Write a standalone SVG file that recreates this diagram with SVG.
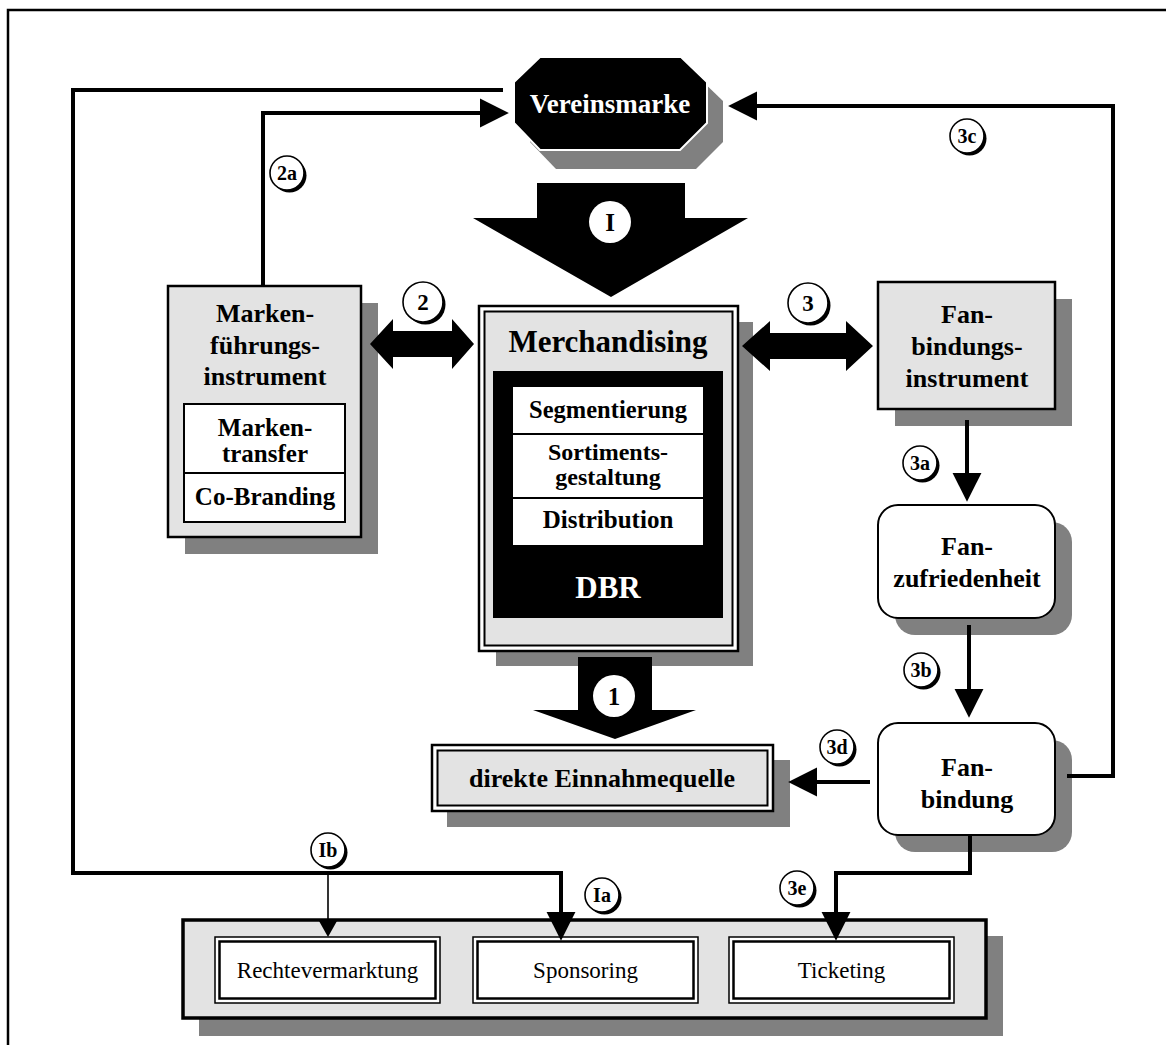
<svg xmlns="http://www.w3.org/2000/svg" width="1166" height="1045" viewBox="0 0 1166 1045">
  <defs>
    <style>
      .b { font-family: "Liberation Serif", "Times New Roman", serif; font-weight: bold; text-anchor: middle; fill: #000; }
      .r { font-family: "Liberation Serif", "Times New Roman", serif; font-weight: normal; text-anchor: middle; fill: #000; }
      .w { fill: #fff; }
      .shadow { fill: #808080; }
      .box { fill: #e3e3e3; stroke: #000; stroke-width: 2.5; }
      .plain { fill: #fff; stroke: #000; stroke-width: 2; }
      .wire { fill: none; stroke: #000; stroke-width: 4; }
      .thin { fill: none; stroke: #000; stroke-width: 1.6; }
      .lbl-sh { fill: #000; }
      .lbl { fill: #fff; stroke: #000; stroke-width: 1.6; }
    </style>
    <marker id="ah" markerUnits="userSpaceOnUse" markerWidth="30" markerHeight="30" refX="0" refY="0" viewBox="0 -13 26 26" orient="auto">
      <path d="M0,-12.5 L25,0 L0,12.5 z" fill="#000"/>
    </marker>
    <marker id="ahs" markerUnits="userSpaceOnUse" markerWidth="20" markerHeight="20" refX="0" refY="0" viewBox="0 -10 17 20" orient="auto">
      <path d="M0,-9 L16,0 L0,9 z" fill="#000"/>
    </marker>
  </defs>

  <!-- page frame -->
  <rect x="8" y="10" width="1200" height="1100" fill="#fff" stroke="#000" stroke-width="2.5"/>

  <!-- Vereinsmarke -->
  <g id="vereinsmarke">
    <polygon class="shadow" points="556,76 697,76 723,101 723,142 696,169 556,169 530,142 530,101"/>
    <polygon points="540,57 681,57 707,82 707,123 680,150 540,150 514,123 514,82" fill="#000" stroke="#fff" stroke-width="2"/>
    <text class="b w" x="610" y="113" font-size="27">Vereinsmarke</text>
  </g>

  <!-- Pfeil I -->
  <g id="pfeil-I">
    <polygon points="537,183 685,183 685,218 748,218 611,297 473,218 537,218" fill="#000"/>
    <circle cx="610" cy="222" r="21" fill="#fff"/>
    <text class="b" x="610" y="231" font-size="25">I</text>
  </g>

  <!-- Markenführungsinstrument -->
  <g id="markenfuehrung">
    <rect class="shadow" x="185" y="303" width="193" height="251"/>
    <rect class="box" x="168" y="286" width="193" height="251"/>
    <text class="b" x="265" y="322" font-size="26">Marken-</text>
    <text class="b" x="265" y="354" font-size="26">führungs-</text>
    <text class="b" x="265" y="385" font-size="26">instrument</text>
    <rect class="plain" x="184" y="404" width="161" height="118"/>
    <line x1="184" y1="473" x2="345" y2="473" stroke="#000" stroke-width="2"/>
    <text class="b" x="265" y="436" font-size="25">Marken-</text>
    <text class="b" x="265" y="462" font-size="25">transfer</text>
    <text class="b" x="265" y="505" font-size="25">Co-Branding</text>
  </g>

  <!-- Merchandising -->
  <g id="merchandising">
    <rect class="shadow" x="496" y="322" width="257" height="344"/>
    <rect x="479" y="306" width="259" height="345" fill="#fff" stroke="#000" stroke-width="2.5"/>
    <rect x="484.5" y="311.5" width="248" height="334" fill="#e3e3e3" stroke="#000" stroke-width="2"/>
    <text class="b" x="608" y="352" font-size="31">Merchandising</text>
    <rect x="493" y="371" width="230" height="247" fill="#000"/>
    <rect x="513" y="387" width="190" height="158" fill="#fff"/>
    <line x1="513" y1="434" x2="703" y2="434" stroke="#000" stroke-width="2"/>
    <line x1="513" y1="498" x2="703" y2="498" stroke="#000" stroke-width="2"/>
    <text class="b" x="608" y="418" font-size="24.5">Segmentierung</text>
    <text class="b" x="608" y="460" font-size="24">Sortiments-</text>
    <text class="b" x="608" y="485" font-size="24">gestaltung</text>
    <text class="b" x="608" y="528" font-size="25">Distribution</text>
    <text class="b w" x="608" y="598" font-size="31">DBR</text>
  </g>

  <!-- Fanbindungsinstrument -->
  <g id="fanbindungsinstrument">
    <rect class="shadow" x="895" y="299" width="177" height="127"/>
    <rect class="box" x="878" y="282" width="177" height="127"/>
    <text class="b" x="967" y="323" font-size="26">Fan-</text>
    <text class="b" x="967" y="355" font-size="26">bindungs-</text>
    <text class="b" x="967" y="387" font-size="26">instrument</text>
  </g>

  <!-- Fanzufriedenheit -->
  <g id="fanzufriedenheit">
    <rect class="shadow" x="895" y="522" width="177" height="113" rx="20"/>
    <rect class="plain" x="878" y="505" width="177" height="113" rx="20" stroke-width="2.5"/>
    <text class="b" x="967" y="555" font-size="26">Fan-</text>
    <text class="b" x="967" y="587" font-size="26">zufriedenheit</text>
  </g>

  <!-- Fanbindung -->
  <g id="fanbindung">
    <rect class="shadow" x="895" y="740" width="177" height="112" rx="20"/>
    <rect class="plain" x="878" y="723" width="177" height="112" rx="20" stroke-width="2.5"/>
    <text class="b" x="967" y="776" font-size="26">Fan-</text>
    <text class="b" x="967" y="808" font-size="26">bindung</text>
  </g>

  <!-- Pfeil 1 -->
  <g id="pfeil-1">
    <polygon points="578,657 652,657 652,710 696,710 615,739 533,710 578,710" fill="#000"/>
    <circle cx="614" cy="696" r="21" fill="#fff"/>
    <text class="b" x="614" y="705" font-size="25">1</text>
  </g>

  <!-- direkte Einnahmequelle -->
  <g id="einnahmequelle">
    <rect class="shadow" x="447" y="760" width="343" height="67"/>
    <rect x="432" y="745" width="341" height="66" fill="#fff" stroke="#000" stroke-width="2.5"/>
    <rect x="437.5" y="750.5" width="330" height="55" fill="#e3e3e3" stroke="#000" stroke-width="2"/>
    <text class="b" x="602" y="787" font-size="26">direkte Einnahmequelle</text>
  </g>

  <!-- weitere Einnahmequellen -->
  <g id="einnahmen">
    <rect class="shadow" x="199" y="936" width="804" height="100"/>
    <rect x="183" y="920" width="803" height="98" fill="#e3e3e3" stroke="#000" stroke-width="3.5"/>
    <g id="rechtevermarktung">
      <rect x="215" y="937" width="225" height="66" fill="#fff" stroke="#000" stroke-width="1.5"/>
      <rect x="219.5" y="941.5" width="216" height="57" fill="#fff" stroke="#000" stroke-width="2.5"/>
      <text class="r" x="327.5" y="978" font-size="23">Rechtevermarktung</text>
    </g>
    <g id="sponsoring">
      <rect x="473" y="937" width="225" height="66" fill="#fff" stroke="#000" stroke-width="1.5"/>
      <rect x="477.5" y="941.5" width="216" height="57" fill="#fff" stroke="#000" stroke-width="2.5"/>
      <text class="r" x="585.5" y="978" font-size="23">Sponsoring</text>
    </g>
    <g id="ticketing">
      <rect x="729" y="937" width="225" height="66" fill="#fff" stroke="#000" stroke-width="1.5"/>
      <rect x="733.5" y="941.5" width="216" height="57" fill="#fff" stroke="#000" stroke-width="2.5"/>
      <text class="r" x="841.5" y="978" font-size="23">Ticketing</text>
    </g>
  </g>

  <!-- connectors -->
  <g id="connectors">
    <!-- 2: Markenführung <-> Merchandising -->
    <polygon points="370,344 393,319 393,331 452,331 452,319 474,344 452,369 452,357 393,357 393,369" fill="#000"/>
    <!-- 3: Merchandising <-> Fanbindungsinstrument -->
    <polygon points="742,346 770,321 770,333 846,333 846,321 873,346 846,371 846,359 770,359 770,371" fill="#000"/>
    <!-- 2a -->
    <path class="wire" d="M263,286 V113 H480" marker-end="url(#ah)"/>
    <!-- 3c -->
    <path class="wire" d="M1067,776 H1113 V106 H757" marker-end="url(#ah)"/>
    <!-- 3a -->
    <path class="wire" d="M967,420 V473" marker-end="url(#ah)"/>
    <!-- 3b -->
    <path class="wire" d="M969,625 V689" marker-end="url(#ah)"/>
    <!-- 3d -->
    <path class="wire" d="M870,782 H817" marker-end="url(#ah)"/>
    <!-- I a / I b -->
    <path class="wire" d="M503,90 H73 V873 H561 V912" marker-end="url(#ah)"/>
    <path class="thin" d="M328,873 V921" marker-end="url(#ahs)"/>
    <!-- 3e -->
    <path class="wire" d="M970,835 V873 H836 V912" marker-end="url(#ah)"/>
  </g>

  <!-- labels -->
  <g id="labels">
    <g id="lbl-2">
      <circle class="lbl-sh" cx="425.5" cy="304.5" r="20"/>
      <circle class="lbl" cx="423" cy="302" r="20"/>
      <text class="b" x="423" y="310" font-size="23">2</text>
    </g>
    <g id="lbl-3">
      <circle class="lbl-sh" cx="810.5" cy="305.5" r="20"/>
      <circle class="lbl" cx="808" cy="303" r="20"/>
      <text class="b" x="808" y="311" font-size="23">3</text>
    </g>
    <g id="lbl-2a">
      <circle class="lbl-sh" cx="289.5" cy="175.5" r="17"/>
      <circle class="lbl" cx="287" cy="173" r="17"/>
      <text class="b" x="287" y="180" font-size="20">2a</text>
    </g>
    <g id="lbl-3c">
      <circle class="lbl-sh" cx="969.5" cy="138.5" r="17"/>
      <circle class="lbl" cx="967" cy="136" r="17"/>
      <text class="b" x="967" y="143" font-size="20">3c</text>
    </g>
    <g id="lbl-3a">
      <circle class="lbl-sh" cx="922.5" cy="465.5" r="17"/>
      <circle class="lbl" cx="920" cy="463" r="17"/>
      <text class="b" x="920" y="470" font-size="20">3a</text>
    </g>
    <g id="lbl-3b">
      <circle class="lbl-sh" cx="923.5" cy="672.5" r="17"/>
      <circle class="lbl" cx="921" cy="670" r="17"/>
      <text class="b" x="921" y="677" font-size="20">3b</text>
    </g>
    <g id="lbl-3d">
      <circle class="lbl-sh" cx="839.5" cy="749.5" r="17"/>
      <circle class="lbl" cx="837" cy="747" r="17"/>
      <text class="b" x="837" y="754" font-size="20">3d</text>
    </g>
    <g id="lbl-Ib">
      <circle class="lbl-sh" cx="330.5" cy="852.5" r="17"/>
      <circle class="lbl" cx="328" cy="850" r="17"/>
      <text class="b" x="328" y="857" font-size="20">Ib</text>
    </g>
    <g id="lbl-Ia">
      <circle class="lbl-sh" cx="604.5" cy="897.5" r="17"/>
      <circle class="lbl" cx="602" cy="895" r="17"/>
      <text class="b" x="602" y="902" font-size="20">Ia</text>
    </g>
    <g id="lbl-3e">
      <circle class="lbl-sh" cx="799.5" cy="890.5" r="17"/>
      <circle class="lbl" cx="797" cy="888" r="17"/>
      <text class="b" x="797" y="895" font-size="20">3e</text>
    </g>
  </g>
</svg>
